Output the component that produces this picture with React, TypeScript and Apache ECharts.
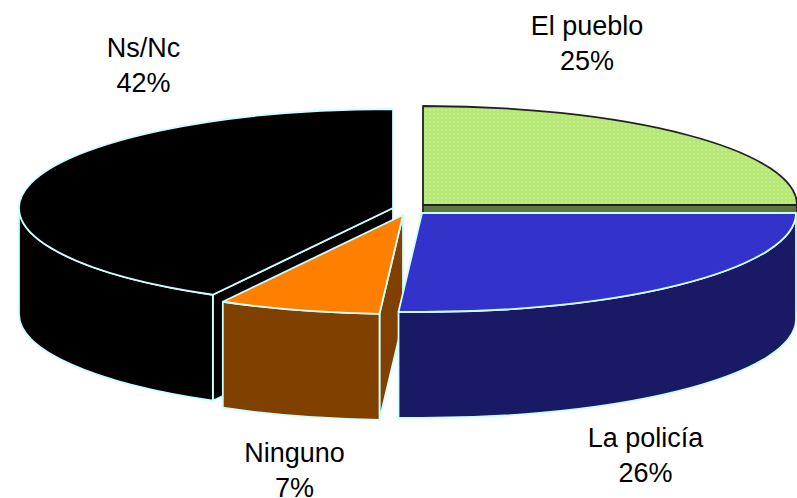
import React, { useEffect, useRef } from "react";
import * as echarts from "echarts";

const categories = ["El pueblo", "La policía", "Ninguno", "Ns/Nc"];
const shares = [25, 26, 7, 42];

const topColors = ["#B9E97A", "#3333CC", "#FF8000", "#000000"];
const sideColors = ["#5D7540", "#191966", "#804000", "#000000"];
const edgeColors = ["#222222", "#CCFFFF", "#CCFFFF", "#CCFFFF"];
const sliceCentres = [[423, 205], [422, 213], [403, 215], [393, 208]];
const labelCentres = [[587, 43], [645.5, 455], [294.5, 470], [143.5, 65]];
const paintOrder = [2, 3, 1, 0];

const RX = 374;
const RY = 99;
const DEPTH = 106;
const START_ANGLE = -90;
const rad = (d: number) => (d * Math.PI) / 180;

function dottedFill() {
  const c = document.createElement("canvas");
  c.width = 4;
  c.height = 4;
  const g = c.getContext("2d")!;
  g.fillStyle = "#B6E877";
  g.fillRect(0, 0, 4, 4);
  g.fillStyle = "#C4EC86";
  g.fillRect(1, 1, 2, 2);
  return { image: c, repeat: "repeat" };
}

function App() {
  const ref = useRef<HTMLDivElement>(null);
  useEffect(() => {
    const chart = echarts.init(ref.current!, null, { renderer: "svg" });
    const total = shares.reduce((a, b) => a + b, 0);
    const greenFill = dottedFill();

    const renderItem = (params: any, api: any) => {
      const i = params.dataIndex;
      const before = shares.slice(0, i).reduce((a, b) => a + b, 0);
      const s = START_ANGLE + (before / total) * 360;
      const e = s + (api.value(0) / total) * 360;
      const [cx, cy] = sliceCentres[i];
      const pt = (t: number, dy = 0) => [cx + RX * Math.cos(rad(t)), cy + RY * Math.sin(rad(t)) + dy];
      const z = paintOrder[i] * 10;
      const style = (fill: any) => ({
        fill,
        stroke: edgeColors[i],
        lineWidth: 1.8,
        lineJoin: "round",
      });
      const arc = (from: number, to: number, dy: number, move: boolean) => {
        const a = pt(from, dy);
        const b = pt(to, dy);
        const large = Math.abs(to - from) > 180 ? 1 : 0;
        const sweep = to > from ? 1 : 0;
        return `${move ? "M" : "L"}${a[0]} ${a[1]} A${RX} ${RY} 0 ${large} ${sweep} ${b[0]} ${b[1]}`;
      };
      const cutFace = (t: number, zz: number) => {
        const a = pt(t);
        const b = pt(t, DEPTH);
        return {
          type: "polygon",
          z2: zz,
          shape: { points: [[cx, cy], a, b, [cx, cy + DEPTH]] },
          style: style(sideColors[i]),
        };
      };
      const children: any[] = [];
      if (Math.sin(rad(s - 90)) > 0.001) children.push(cutFace(s, z));
      if (Math.cos(rad(e)) > 0.001) children.push(cutFace(e, z));
      const v0 = Math.max(s, 0);
      const v1 = Math.min(e, 180);
      if (v1 > v0) {
        children.push({
          type: "path",
          z2: z + 1,
          shape: { pathData: `${arc(v0, v1, 0, true)} ${arc(v1, v0, DEPTH, false)} Z` },
          style: style(sideColors[i]),
        });
      }
      children.push({
        type: "path",
        z2: z + 2,
        shape: { pathData: `M${cx} ${cy} ${arc(s, e, 0, false)} Z` },
        style: style(i === 0 ? greenFill : topColors[i]),
      });
      children.push({
        type: "text",
        z2: 100,
        x: labelCentres[i][0],
        y: labelCentres[i][1],
        style: {
          text: `${categories[i]}\n${Math.round(api.value(0))}%`,
          fill: "#000",
          font: '27px "Liberation Sans", Arial, sans-serif',
          align: "center",
          verticalAlign: "middle",
          lineHeight: 35,
        },
      });
      return { type: "group", children };
    };

    chart.setOption({
      animation: false,
      backgroundColor: "#FFFFFF",
      series: [
        {
          type: "custom",
          coordinateSystem: "none",
          silent: true,
          clip: false,
          renderItem,
          data: shares.map((v, idx) => ({ name: categories[idx], value: [v] })),
        },
      ],
    });
    return () => chart.dispose();
  }, []);
  return <div ref={ref} style={{ position: "absolute", left: 0, top: 0, width: 797, height: 498 }} />;
}

export default App;
